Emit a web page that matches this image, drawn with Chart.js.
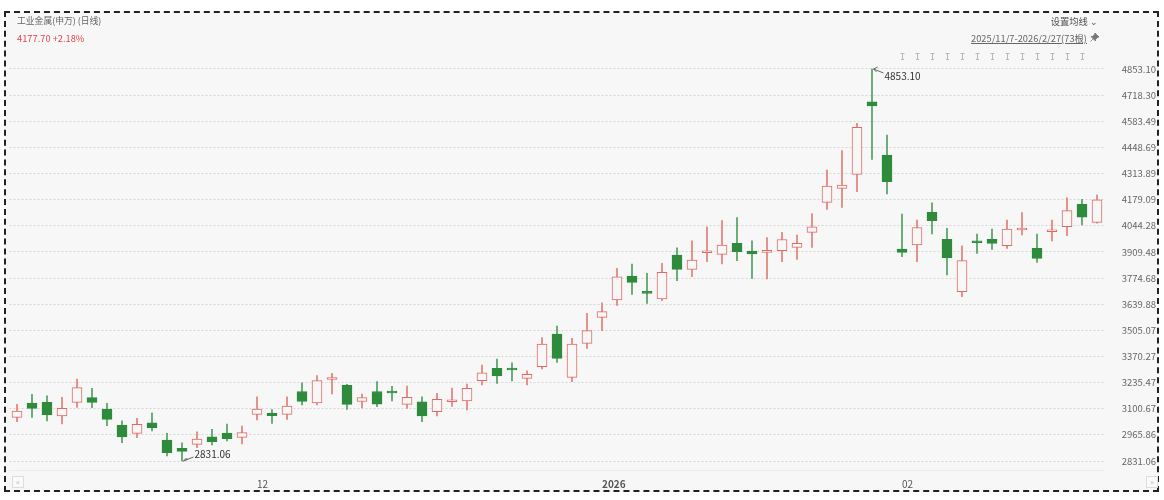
<!DOCTYPE html>
<html>
<head>
<meta charset="utf-8">
<script src="https://cdn.jsdelivr.net/npm/chart.js@4"></script>
<style>
  body { margin: 0; background: #fff; font-family: "Noto Sans CJK SC", "Noto Sans", sans-serif; }
  #frame { position: absolute; left: 4px; top: 11px; width: 1151px; height: 477px; border: 2px dashed #222; background: #f7f7f7; }
  canvas { position: absolute; left: 0; top: 0; }
  .txt { position: absolute; font-size: 9.3px; line-height: 12px; color: #666; white-space: nowrap; }
  .btn { position: absolute; width: 10px; height: 10px; border: 1px solid #ddd; background: #fafafa; color: #bbb; font-size: 8px; line-height: 10px; text-align: center; }
</style>
</head>
<body>
<div id="frame"></div>
<canvas id="kChart" width="1164" height="500"></canvas>
<div class="txt" style="left:17px; top:15px; font-size:8.8px;">工业金属(申万) (日线)</div>
<div class="txt" style="left:17px; top:32px; color:#e0474c;">4177.70 +2.18%</div>
<div class="txt" style="right:66px; top:15px; color:#555;">设置均线 ⌄</div>
<div class="txt" style="right:77px; top:32px; text-decoration:underline;">2025/11/7-2026/2/27(73根)</div>
<svg style="position:absolute; left:1090px; top:33px;" width="9" height="9" viewBox="0 0 9 9">
  <path d="M5 0 L9 4 L7.5 4.5 L5.5 6.5 L5.5 8 L1 3.5 L2.5 3.5 L4.5 1.5 Z M3 6 L0.5 8.5" fill="#777" stroke="#777" stroke-width="0.8"/>
</svg>
<div class="btn" style="left:12px; top:476px;">«</div>
<div class="btn" style="left:1146px; top:476px;">»</div>
<script>
const categories = [
  "2025-11-07", "2025-11-10", "2025-11-11", "2025-11-12", "2025-11-13", "2025-11-14",
  "2025-11-17", "2025-11-18", "2025-11-19", "2025-11-20", "2025-11-21",
  "2025-11-24", "2025-11-25", "2025-11-26", "2025-11-27", "2025-11-28",
  "2025-12-01", "2025-12-02", "2025-12-03", "2025-12-04", "2025-12-05",
  "2025-12-08", "2025-12-09", "2025-12-10", "2025-12-11", "2025-12-12",
  "2025-12-15", "2025-12-16", "2025-12-17", "2025-12-18", "2025-12-19",
  "2025-12-22", "2025-12-23", "2025-12-24", "2025-12-25", "2025-12-26",
  "2025-12-29", "2025-12-30", "2025-12-31",
  "2026-01-05", "2026-01-06", "2026-01-07", "2026-01-08", "2026-01-09",
  "2026-01-12", "2026-01-13", "2026-01-14", "2026-01-15", "2026-01-16",
  "2026-01-19", "2026-01-20", "2026-01-21", "2026-01-22", "2026-01-23",
  "2026-01-26", "2026-01-27", "2026-01-28", "2026-01-29", "2026-01-30",
  "2026-02-02", "2026-02-03", "2026-02-04", "2026-02-05", "2026-02-06",
  "2026-02-09", "2026-02-10", "2026-02-11", "2026-02-12", "2026-02-13",
  "2026-02-24", "2026-02-25", "2026-02-26", "2026-02-27",
];

const openVals = [
  3056.5, 3130.2, 3133.8, 3063.2, 3133.8, 3157.6, 3099.3, 3016.8, 2973.9, 3028.6,
  2939.4, 2896.6, 2917.2, 2956.4, 2975.5, 2953.3, 3071.9, 3078.7, 3071.9, 3189.6,
  3130.2, 3251.5, 3221.5, 3138.0, 3189.6, 3188.5, 3123.5, 3136.9, 3085.4, 3136.9,
  3141.6, 3245.3, 3309.2, 3309.2, 3257.6, 3317.5, 3486.2, 3262.8, 3438.2, 3572.3,
  3661.5, 3785.3, 3701.3, 3666.7, 3893.7, 3819.9, 3905.5, 3897.2, 3954.0, 3914.3,
  3907.6, 3915.8, 3933.4, 4010.7, 4165.5, 4237.7, 4309.9, 4684.4, 4409.5, 3924.6,
  3945.2, 4113.9, 3974.6, 3704.3, 3965.9, 3974.6, 3941.6, 4022.6, 3928.2, 4013.8,
  4039.6, 4155.2, 4062.3,
];
const highVals = [
  3123.5, 3175.1, 3167.9, 3159.6, 3254.0, 3206.0, 3128.7, 3038.9, 3051.3, 3080.2,
  2973.9, 2925.4, 2982.2, 2994.6, 3021.9, 3011.6, 3162.7, 3096.7, 3162.7, 3234.9,
  3271.1, 3283.4, 3226.7, 3176.7, 3241.1, 3216.4, 3217.9, 3162.7, 3180.3, 3207.6,
  3228.2, 3326.3, 3357.2, 3338.1, 3296.8, 3467.1, 3527.4, 3464.0, 3592.9, 3647.6,
  3825.1, 3847.2, 3799.2, 3850.8, 3931.3, 3967.4, 4039.6, 4070.6, 4086.1, 3967.4,
  3982.9, 4010.7, 3996.8, 4106.7, 4332.1, 4431.7, 4573.0, 4853.10, 4512.7, 4105.1,
  4074.2, 4163.4, 4031.4, 3941.6, 4002.0, 4027.8, 4074.2, 4111.9, 4002.0, 4074.2,
  4189.2, 4181.0, 4203.2,
];
const lowVals = [
  3033.8, 3056.5, 3037.4, 3021.9, 3108.1, 3106.0, 3013.2, 2925.4, 2951.2, 2985.8,
  2856.9, 2831.06, 2899.7, 2913.6, 2934.2, 2918.7, 3042.5, 3025.5, 3046.2, 3119.9,
  3119.9, 3176.7, 3097.7, 3104.4, 3111.1, 3140.6, 3102.9, 3033.8, 3064.2, 3112.1,
  3094.1, 3223.1, 3231.8, 3243.7, 3223.1, 3305.6, 3340.2, 3240.1, 3412.4, 3503.2,
  3633.2, 3690.9, 3644.5, 3657.9, 3761.1, 3781.7, 3859.1, 3847.2, 3864.3, 3773.5,
  3769.9, 3859.1, 3871.5, 3933.4, 4129.4, 4139.7, 4220.2, 4387.3, 4208.3, 3884.9,
  3859.1, 4002.0, 3790.5, 3678.5, 3902.4, 3923.1, 3928.2, 3996.8, 3856.0, 3965.9,
  3993.2, 4048.4, 4058.0,
];
const closeVals = [
  3089.0, 3102.9, 3068.3, 3102.9, 3209.2, 3133.8, 3046.2, 2954.9, 3020.4, 3001.3,
  2873.9, 2881.1, 2944.5, 2930.6, 2946.1, 2977.1, 3099.3, 3064.7, 3114.8, 3139.0,
  3245.3, 3259.2, 3123.5, 3158.6, 3124.0, 3181.8, 3159.6, 3063.2, 3149.3, 3145.7,
  3206.0, 3286.5, 3269.5, 3300.5, 3278.2, 3434.6, 3360.8, 3434.6, 3503.2, 3601.2,
  3781.7, 3752.8, 3696.1, 3804.4, 3819.9, 3867.9, 3910.7, 3945.2, 3910.7, 3898.8,
  3912.7, 3973.6, 3954.0, 4039.6, 4249.6, 4254.7, 4552.4, 4662.2, 4271.8, 3907.6,
  4034.5, 4070.6, 3879.7, 3864.3, 3957.1, 3954.0, 4027.8, 4031.4, 3876.6, 4022.6,
  4122.2, 4088.6, 4177.7,
];

const yTicks = [
  2831.06, 2965.86, 3100.67, 3235.47, 3370.27, 3505.07, 3639.88, 3774.68,
  3909.48, 4044.28, 4179.09, 4313.89, 4448.69, 4583.49, 4718.30, 4853.10,
];

// candles that carry the small event marker above the plot
const markerIdx = [59, 60, 61, 62, 63, 64, 65, 66, 67, 68, 69, 70, 71];

const upColor = "#e06a63";
const downColor = "#2e8b3c";
const upWick = "#e27d76";
const downWick = "#4f9e5e";
const bgColor = "#f7f7f7";
const fontFamily = '"Noto Sans CJK SC", "Noto Sans", sans-serif';

const isUp = categories.map((_, i) => closeVals[i] >= openVals[i]);

const yStep = (yTicks[yTicks.length - 1] - yTicks[0]) / (yTicks.length - 1);

const extremesPlugin = {
  id: "extremes",
  afterDatasetsDraw(chart) {
    const { ctx, scales: { x, y } } = chart;
    const hi = highVals.indexOf(Math.max(...highVals));
    const lo = lowVals.indexOf(Math.min(...lowVals));
    ctx.save();
    ctx.font = "10px " + fontFamily;
    ctx.textBaseline = "middle";
    ctx.textAlign = "left";
    const tag = (i, v, dir) => {
      const px = x.getPixelForValue(i) + 1.5;
      const py = y.getPixelForValue(v);
      ctx.strokeStyle = "#666";
      ctx.lineWidth = 1;
      ctx.beginPath();
      ctx.moveTo(px, py);
      ctx.lineTo(px + 10, py + dir * 4);
      ctx.moveTo(px, py);
      ctx.lineTo(px + 4, py + dir * 0.2 - 2);
      ctx.moveTo(px, py);
      ctx.lineTo(px + 3, py + dir * 3);
      ctx.stroke();
      ctx.fillStyle = "#333";
      ctx.fillText(v.toFixed(2), px + 11, py + dir * 7);
    };
    tag(hi, highVals[hi], 1);
    tag(lo, lowVals[lo], -1);

    ctx.strokeStyle = "#b8b8b8";
    ctx.lineWidth = 1;
    markerIdx.forEach((i) => {
      const cx = Math.round(x.getPixelForValue(i)) + 0.5;
      ctx.beginPath();
      ctx.moveTo(cx - 2, 53.5);
      ctx.lineTo(cx + 2, 53.5);
      ctx.moveTo(cx, 53.5);
      ctx.lineTo(cx, 60);
      ctx.moveTo(cx - 1.5, 59.5);
      ctx.lineTo(cx + 1.5, 59.5);
      ctx.stroke();
    });
    ctx.restore();
  },
};

const ctx = document.getElementById("kChart").getContext("2d");

new Chart(ctx, {
  type: "bar",
  data: {
    labels: categories,
    datasets: [
      {
        label: "body",
        data: categories.map((_, i) => [
          Math.min(openVals[i], closeVals[i]),
          Math.max(openVals[i], closeVals[i]),
        ]),
        backgroundColor: isUp.map((u) => (u ? bgColor : downColor)),
        borderColor: isUp.map((u) => (u ? upColor : downColor)),
        borderWidth: 1,
        borderSkipped: false,
        barThickness: 10,
        minBarLength: 2,
        grouped: false,
      },
      {
        label: "wick",
        data: categories.map((_, i) => [lowVals[i], highVals[i]]),
        backgroundColor: isUp.map((u) => (u ? upWick : downWick)),
        borderWidth: 0,
        barThickness: 1,
        grouped: false,
      },
    ],
  },
  options: {
    responsive: false,
    animation: false,
    layout: {
      padding: { top: 50, left: 9.5, right: 8, bottom: 8 },
    },
    scales: {
      x: {
        offset: true,
        afterFit: (scale) => {
          scale.height = 22;
        },
        grid: { display: false, drawTicks: false },
        border: { display: true, color: "#ececec" },
        ticks: {
          autoSkip: false,
          maxRotation: 0,
          align: "start",
          padding: 8,
          color: "#555",
          font: (c) => ({
            size: 10,
            family: fontFamily,
            weight: c.tick && c.tick.label === "2026" ? "bold" : "normal",
          }),
          callback: (v, i) => {
            if (i === 0) return "";
            const prev = categories[i - 1].split("-");
            const cur = categories[i].split("-");
            if (cur[0] !== prev[0]) return cur[0];
            if (cur[1] !== prev[1]) return cur[1];
            return "";
          },
        },
      },
      y: {
        position: "right",
        min: yTicks[0] - yStep * 0.344,
        max: yTicks[yTicks.length - 1] + yStep * 0.727,
        afterBuildTicks: (axis) => {
          axis.ticks = yTicks.map((v) => ({ value: v }));
        },
        afterFit: (scale) => {
          scale.width = 51.5;
        },
        grid: { color: "#d6d6d6", lineWidth: 1, drawTicks: false },
        border: { display: false, dash: [2, 2] },
        ticks: {
          crossAlign: "far",
          padding: 17,
          color: "#666",
          font: { size: 9.5, family: fontFamily },
          callback: (v) => Number(v).toFixed(2),
        },
      },
    },
    plugins: {
      legend: { display: false },
      tooltip: { enabled: false },
    },
  },
  plugins: [extremesPlugin],
});
</script>
</body>
</html>
